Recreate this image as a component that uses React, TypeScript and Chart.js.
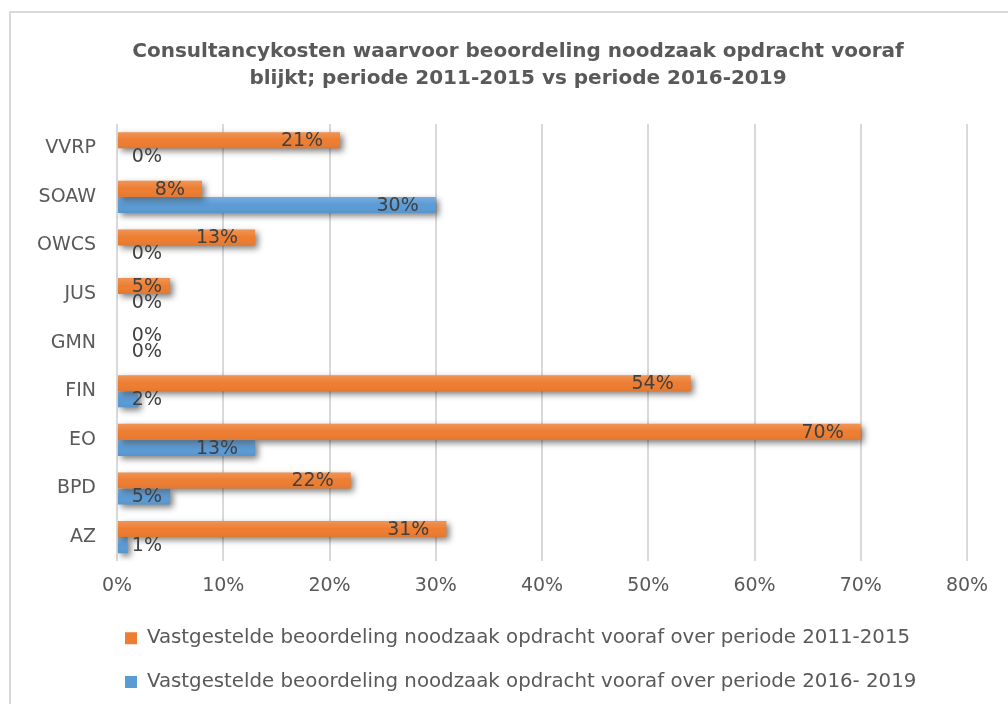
import React, { useEffect, useRef } from "react";
import { Chart, registerables } from "chart.js";

Chart.register(...registerables);

const categories = ["VVRP", "SOAW", "OWCS", "JUS", "GMN", "FIN", "EO", "BPD", "AZ"];
const series2011 = [21, 8, 13, 5, 0, 54, 70, 22, 31];
const series2016 = [0, 30, 0, 0, 0, 2, 13, 5, 1];
const xTicks = [0, 10, 20, 30, 40, 50, 60, 70, 80];
const titleLines = [
  "Consultancykosten waarvoor beoordeling noodzaak opdracht vooraf",
  "blijkt; periode 2011-2015 vs periode 2016-2019",
];
const seriesNames = [
  "Vastgestelde beoordeling noodzaak opdracht vooraf over periode 2011-2015",
  "Vastgestelde beoordeling noodzaak opdracht vooraf over periode 2016- 2019",
];

const FONT = "'DejaVu Sans', sans-serif";
const GRAY = "#595959";

const shiftPlugin = {
  id: "shiftBoxes",
  afterLayout(chart: any) {
    if (chart.titleBlock) {
      chart.titleBlock.left = 69;
      chart.titleBlock.right = 967;
      chart.titleBlock.width = 967 - 69;
    }
    if (chart.legend) {
      chart.legend.left = 101;
      chart.legend.right = 1008;
      chart.legend.width = 1008 - 101;
    }
  },
};

const shadowPlugin = {
  id: "barShadow",
  beforeDatasetsDraw(chart: any) {
    const ctx = chart.ctx;
    ctx.save();
    ctx.shadowColor = "rgba(0,0,0,0.5)";
    ctx.shadowBlur = 6;
    ctx.shadowOffsetX = 3;
    ctx.shadowOffsetY = 3;
  },
  afterDatasetsDraw(chart: any) {
    const ctx = chart.ctx;
    ctx.restore();
    chart.data.datasets.forEach((_: any, di: number) => {
      const meta = chart.getDatasetMeta(di);
      meta.data.forEach((el: any) => {
        const h = el.height;
        const top = el.y - h / 2;
        const left = Math.min(el.x, el.base);
        const w = Math.abs(el.x - el.base);
        if (w <= 0) return;
        const g = ctx.createLinearGradient(0, top, 0, top + h);
        g.addColorStop(0, "rgba(255,255,255,0.18)");
        g.addColorStop(0.5, "rgba(255,255,255,0.0)");
        g.addColorStop(1, "rgba(0,0,0,0.05)");
        ctx.save();
        ctx.fillStyle = g;
        ctx.fillRect(left, top, w, h);
        ctx.restore();
      });
    });
  },
};

const labelPlugin = {
  id: "barLabels",
  afterDatasetsDraw(chart: any) {
    const ctx = chart.ctx;
    const xs = chart.scales.x;
    const origin = xs.getPixelForValue(0);
    ctx.save();
    ctx.font = `19px ${FONT}`;
    ctx.fillStyle = "#404040";
    ctx.textAlign = "right";
    ctx.textBaseline = "middle";
    chart.data.datasets.forEach((ds: any, di: number) => {
      const meta = chart.getDatasetMeta(di);
      meta.data.forEach((el: any, i: number) => {
        const v = ds.data[i];
        const right = Math.max(el.x - 17, origin + 45);
        ctx.fillText(`${v}%`, right, el.y + 1);
      });
    });
    ctx.restore();
  },
};

export default function App() {
  const ref = useRef<HTMLCanvasElement | null>(null);
  useEffect(() => {
    if (!ref.current) return;
    const chart = new Chart(ref.current, {
      type: "bar",
      data: {
        labels: categories,
        datasets: [
          {
            label: seriesNames[0],
            data: series2011,
            backgroundColor: "#ED7D31",
            borderWidth: 0,
            categoryPercentage: 0.66,
            barPercentage: 1,
          },
          {
            label: seriesNames[1],
            data: series2016,
            backgroundColor: "#5B9BD5",
            borderWidth: 0,
            categoryPercentage: 0.66,
            barPercentage: 1,
          },
        ],
      },
      options: {
        indexAxis: "y",
        responsive: false,
        animation: false,
        layout: { padding: { left: 0, right: 41, top: 0, bottom: 2 } },
        scales: {
          x: {
            min: 0,
            max: 80,
            afterBuildTicks(scale: any) {
              scale.ticks = xTicks.map((v) => ({ value: v }));
            },
            afterFit(scale: any) {
              scale.height = 43;
            },
            grid: { color: "#D9D9D9", lineWidth: 2, drawTicks: false },
            border: { display: false },
            ticks: {
              color: GRAY,
              font: { family: FONT, size: 19 },
              padding: 13,
              callback: (v: any) => `${v}%`,
            },
          },
          y: {
            grid: { display: false, drawTicks: false },
            border: { display: false },
            afterFit(scale: any) {
              scale.width = 117;
            },
            ticks: {
              color: GRAY,
              font: { family: FONT, size: 19 },
              padding: 21,
            },
          },
        },
        plugins: {
          title: {
            display: true,
            text: titleLines,
            color: GRAY,
            font: { family: FONT, size: 20, weight: "bold", lineHeight: 1.35 },
            padding: { top: 38, bottom: 32 },
          },
          legend: {
            position: "bottom",
            align: "start",
            labels: {
              color: GRAY,
              font: { family: FONT, size: 19.8 },
              boxWidth: 12,
              boxHeight: 12,
              padding: 24,
            },
          },
          tooltip: { enabled: false },
        },
      },
      plugins: [shiftPlugin, shadowPlugin, labelPlugin],
    } as any);
    return () => chart.destroy();
  }, []);

  return (
    <div style={{ position: "absolute", left: 0, top: 0, width: 1008, height: 704, overflow: "hidden", background: "#fff" }}>
      <div
        style={{
          position: "absolute",
          left: 9,
          top: 11,
          width: 1020,
          height: 720,
          border: "2px solid #D9D9D9",
        }}
      />
      <canvas ref={ref} width={1008} height={704} style={{ position: "absolute", left: 0, top: 0 }} />
    </div>
  );
}
